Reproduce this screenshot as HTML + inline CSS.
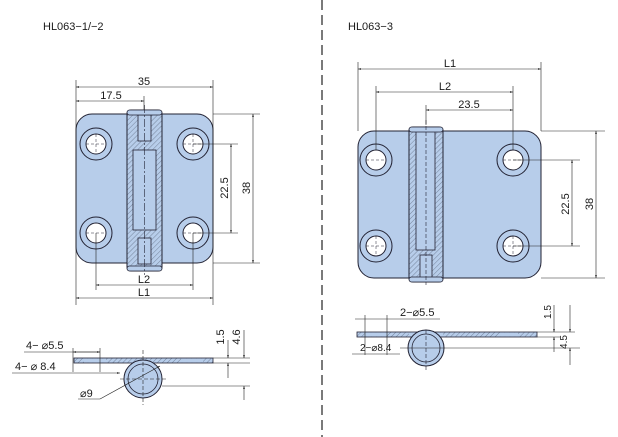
<!DOCTYPE html>
<html><head><meta charset="utf-8"><style>
html,body{margin:0;padding:0;background:#fff;}
svg{display:block;}
text{font-family:"Liberation Sans",sans-serif;fill:#1a1a1a;}
</style></head><body>
<svg width="618" height="437" viewBox="0 0 618 437" xmlns="http://www.w3.org/2000/svg">
<defs>
<pattern id="h" width="3.5" height="3.5" patternUnits="userSpaceOnUse" patternTransform="rotate(45)">
<rect width="3.5" height="3.5" fill="#b7cdea"/><line x1="0" y1="0" x2="0" y2="3.5" stroke="#4a5468" stroke-width="0.6"/>
</pattern>
<marker id="a" viewBox="0 0 10 10" refX="10" refY="5" markerWidth="7" markerHeight="5" orient="auto-start-reverse"><path d="M0,2 L10,5 L0,8z" fill="#222"/></marker>
</defs>
<line x1="322" y1="0" x2="322" y2="437" stroke="#222" stroke-dasharray="10,5" stroke-width="1.2"/>
<text x="43" y="30" font-size="11">HL063−1/−2</text>
<text x="348" y="30" font-size="11">HL063−3</text>

<!-- LEFT PLATE -->
<rect x="76" y="114" width="137" height="149" rx="16" fill="#b7cdea" stroke="#223" stroke-width="1"/>
<g fill="#fff" stroke="#223" stroke-width="1">
<circle cx="96" cy="144" r="16" fill="#b7cdea"/><circle cx="96" cy="144" r="10"/>
<circle cx="193" cy="144" r="16" fill="#b7cdea"/><circle cx="193" cy="144" r="10"/>
<circle cx="96" cy="233" r="16" fill="#b7cdea"/><circle cx="96" cy="233" r="10"/>
<circle cx="193" cy="233" r="16" fill="#b7cdea"/><circle cx="193" cy="233" r="10"/>
</g>
<rect x="127" y="110" width="35" height="161" rx="4" fill="url(#h)" stroke="#223" stroke-width="1"/>
<rect x="133" y="150" width="23" height="80" fill="#b7cdea" stroke="#223" stroke-width="0.8"/>
<rect x="138" y="115" width="13" height="26" fill="#b7cdea" stroke="#223" stroke-width="0.8"/>
<rect x="138" y="238" width="13" height="26" fill="#b7cdea" stroke="#223" stroke-width="0.8"/>
<rect x="127" y="110" width="35" height="5" rx="2.5" fill="#b7cdea" stroke="#223" stroke-width="0.8"/>
<rect x="127" y="266" width="35" height="5" rx="2.5" fill="#b7cdea" stroke="#223" stroke-width="0.8"/>
<line x1="144.5" y1="105" x2="144.5" y2="275" stroke="#223" stroke-width="0.6" stroke-dasharray="8,2,2,2"/>
<g stroke="#223" stroke-width="0.5" stroke-dasharray="3,2">
<line x1="86" y1="144" x2="106" y2="144"/><line x1="96" y1="134" x2="96" y2="154"/>
<line x1="183" y1="144" x2="203" y2="144"/><line x1="193" y1="134" x2="193" y2="154"/>
<line x1="86" y1="233" x2="106" y2="233"/><line x1="183" y1="233" x2="203" y2="233"/>
</g>
<g stroke="#222" stroke-width="0.6" fill="none">
<line x1="76" y1="80" x2="76" y2="305"/><line x1="213" y1="80" x2="213" y2="305"/>
<line x1="76" y1="87" x2="213" y2="87" marker-start="url(#a)" marker-end="url(#a)"/>
<line x1="76" y1="101" x2="144" y2="101" marker-start="url(#a)" marker-end="url(#a)"/>
<line x1="144" y1="96" x2="144" y2="110"/>
<line x1="213" y1="114" x2="260" y2="114"/><line x1="213" y1="263" x2="260" y2="263"/>
<line x1="253" y1="114" x2="253" y2="263" marker-start="url(#a)" marker-end="url(#a)"/>
<line x1="193" y1="144" x2="238" y2="144"/><line x1="193" y1="233" x2="238" y2="233"/>
<line x1="231" y1="144" x2="231" y2="233" marker-start="url(#a)" marker-end="url(#a)"/>
<line x1="96" y1="233" x2="96" y2="290"/><line x1="193" y1="233" x2="193" y2="290"/>
<line x1="96" y1="285" x2="193" y2="285" marker-start="url(#a)" marker-end="url(#a)"/>
<line x1="76" y1="298" x2="213" y2="298" marker-start="url(#a)" marker-end="url(#a)"/>
</g>
<text x="144" y="85" font-size="11" text-anchor="middle">35</text>
<text x="111" y="99" font-size="11" text-anchor="middle">17.5</text>
<text x="144" y="283" font-size="11" text-anchor="middle">L2</text>
<text x="144" y="296" font-size="11" text-anchor="middle">L1</text>
<text transform="translate(250,188) rotate(-90)" font-size="11" text-anchor="middle">38</text>
<text transform="translate(228,188) rotate(-90)" font-size="11" text-anchor="middle">22.5</text>

<!-- RIGHT PLATE -->
<rect x="358" y="131" width="183" height="147" rx="16" fill="#b7cdea" stroke="#223" stroke-width="1"/>
<g fill="#fff" stroke="#223" stroke-width="1">
<circle cx="376" cy="160" r="16" fill="#b7cdea"/><circle cx="376" cy="160" r="10"/>
<circle cx="513" cy="160" r="16" fill="#b7cdea"/><circle cx="513" cy="160" r="10"/>
<circle cx="376" cy="246" r="16" fill="#b7cdea"/><circle cx="376" cy="246" r="10"/>
<circle cx="513" cy="246" r="16" fill="#b7cdea"/><circle cx="513" cy="246" r="10"/>
</g>
<rect x="409" y="127" width="34" height="155" rx="4" fill="url(#h)" stroke="#223" stroke-width="1"/>
<rect x="416" y="130" width="19" height="120" fill="#b7cdea" stroke="#223" stroke-width="0.8"/>
<rect x="420" y="255" width="12" height="25" fill="#b7cdea" stroke="#223" stroke-width="0.8"/>
<rect x="409" y="127" width="34" height="5" rx="2.5" fill="#b7cdea" stroke="#223" stroke-width="0.8"/>
<rect x="409" y="277" width="34" height="5" rx="2.5" fill="#b7cdea" stroke="#223" stroke-width="0.8"/>
<line x1="426" y1="120" x2="426" y2="285" stroke="#223" stroke-width="0.6" stroke-dasharray="4,2"/>
<g stroke="#223" stroke-width="0.5" stroke-dasharray="3,2">
<line x1="366" y1="160" x2="386" y2="160"/><line x1="503" y1="160" x2="523" y2="160"/>
<line x1="366" y1="246" x2="386" y2="246"/><line x1="376" y1="236" x2="376" y2="256"/>
<line x1="503" y1="246" x2="523" y2="246"/><line x1="513" y1="236" x2="513" y2="256"/>
</g>
<g stroke="#222" stroke-width="0.6" fill="none">
<line x1="358" y1="62" x2="358" y2="131"/><line x1="541" y1="62" x2="541" y2="131"/>
<line x1="358" y1="69" x2="541" y2="69" marker-start="url(#a)" marker-end="url(#a)"/>
<line x1="376" y1="86" x2="376" y2="150"/><line x1="513" y1="86" x2="513" y2="150"/>
<line x1="376" y1="92" x2="513" y2="92" marker-start="url(#a)" marker-end="url(#a)"/>
<line x1="426" y1="105" x2="426" y2="125"/>
<line x1="426" y1="110" x2="513" y2="110" marker-start="url(#a)" marker-end="url(#a)"/>
<line x1="541" y1="131" x2="605" y2="131"/><line x1="541" y1="278" x2="605" y2="278"/>
<line x1="596" y1="131" x2="596" y2="278" marker-start="url(#a)" marker-end="url(#a)"/>
<line x1="513" y1="160" x2="580" y2="160"/><line x1="513" y1="246" x2="580" y2="246"/>
<line x1="572" y1="160" x2="572" y2="246" marker-start="url(#a)" marker-end="url(#a)"/>
</g>
<text x="450" y="67" font-size="11" text-anchor="middle">L1</text>
<text x="445" y="90" font-size="11" text-anchor="middle">L2</text>
<text x="469" y="108" font-size="11" text-anchor="middle">23.5</text>
<text transform="translate(593,204) rotate(-90)" font-size="11" text-anchor="middle">38</text>
<text transform="translate(569,204) rotate(-90)" font-size="11" text-anchor="middle">22.5</text>

<!-- LEFT SIDE VIEW -->
<rect x="74" y="358" width="139" height="5" fill="url(#h)" stroke="#223" stroke-width="0.8"/>
<rect x="84" y="358.5" width="22" height="4" fill="#b7cdea"/>
<rect x="181" y="358.5" width="22" height="4" fill="#b7cdea"/>
<circle cx="143" cy="379" r="19" fill="#b7cdea" stroke="#223" stroke-width="1"/>
<circle cx="143" cy="379" r="15" fill="#b7cdea" stroke="#223" stroke-width="0.8"/>
<g stroke="#222" stroke-width="0.6" fill="none">
<line x1="143" y1="350" x2="143" y2="405" stroke-dasharray="4,2"/>
<line x1="120" y1="379" x2="166" y2="379" stroke-dasharray="4,2"/>
<line x1="24" y1="352" x2="100" y2="352"/>
<line x1="73" y1="352" x2="100" y2="352" marker-start="url(#a)" marker-end="url(#a)"/>
<line x1="73" y1="348" x2="73" y2="372"/><line x1="100" y1="348" x2="100" y2="372"/>
<line x1="12" y1="373" x2="120" y2="373" marker-end="url(#a)"/>
<line x1="78" y1="399" x2="100" y2="399"/><line x1="100" y1="399" x2="160" y2="366" marker-end="url(#a)"/>
<line x1="213" y1="358" x2="250" y2="358"/><line x1="213" y1="363" x2="250" y2="363"/>
<line x1="162" y1="386" x2="250" y2="386"/>
<line x1="228" y1="340" x2="228" y2="358" marker-end="url(#a)"/>
<line x1="228" y1="378" x2="228" y2="363" marker-end="url(#a)"/>
<line x1="244" y1="330" x2="244" y2="358" marker-end="url(#a)"/>
<line x1="244" y1="400" x2="244" y2="386" marker-end="url(#a)"/>
</g>
<text x="26" y="349" font-size="11">4− ⌀5.5</text>
<text x="15" y="370" font-size="11">4− ⌀ 8.4</text>
<text x="80" y="397" font-size="11">⌀9</text>
<text transform="translate(224,337) rotate(-90)" font-size="11" text-anchor="middle">1.5</text>
<text transform="translate(240,337) rotate(-90)" font-size="11" text-anchor="middle">4.6</text>

<!-- RIGHT SIDE VIEW -->
<rect x="357" y="332" width="180" height="5" fill="url(#h)" stroke="#223" stroke-width="0.8"/>
<rect x="365" y="332.5" width="22" height="4" fill="#b7cdea"/>
<rect x="500" y="332.5" width="18" height="4" fill="#b7cdea"/>
<rect x="409" y="332.5" width="34" height="4" fill="#b7cdea"/>
<circle cx="426" cy="348" r="18" fill="#b7cdea" stroke="#223" stroke-width="1"/>
<circle cx="426" cy="348" r="14" fill="#b7cdea" stroke="#223" stroke-width="0.8"/>
<g stroke="#222" stroke-width="0.6" fill="none">
<line x1="426" y1="330" x2="426" y2="370" stroke="#223" stroke-dasharray="4,2"/>
<line x1="400" y1="348" x2="580" y2="348"/>
<line x1="365" y1="315" x2="365" y2="355"/><line x1="387" y1="315" x2="387" y2="355"/>
<line x1="355" y1="319" x2="440" y2="319"/>
<line x1="352" y1="354" x2="400" y2="354"/>
<line x1="537" y1="332" x2="575" y2="332"/><line x1="537" y1="337" x2="560" y2="337"/>
<line x1="554" y1="305" x2="554" y2="332" marker-end="url(#a)"/>
<line x1="554" y1="352" x2="554" y2="337" marker-end="url(#a)"/>
<line x1="570" y1="305" x2="570" y2="332" marker-end="url(#a)"/>
<line x1="570" y1="365" x2="570" y2="348" marker-end="url(#a)"/>
</g>
<text x="400" y="316" font-size="11">2−⌀5.5</text>
<text x="360" y="351" font-size="10">2−⌀8.4</text>
<text transform="translate(551,312) rotate(-90)" font-size="10" text-anchor="middle">1.5</text>
<text transform="translate(567,342) rotate(-90)" font-size="10" text-anchor="middle">4.5</text>
</svg>
</body></html>
